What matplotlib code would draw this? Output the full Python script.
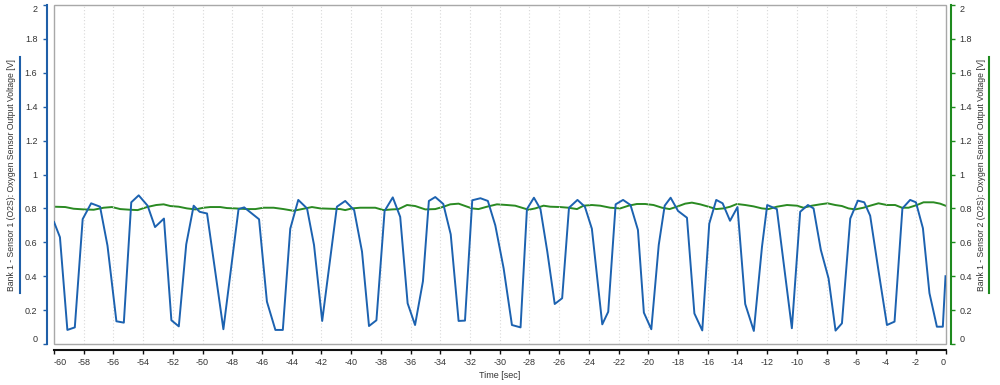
import matplotlib
matplotlib.use("Agg")
import matplotlib.pyplot as plt
from matplotlib.lines import Line2D
from matplotlib.ticker import FixedLocator

# Bank 1 - Sensor 1 (blue), time [sec] / voltage [V]
sensor1_time = [-60.0, -59.6, -59.1, -58.6, -58.07, -57.5, -56.9, -56.4, -55.8, -55.3,
                -54.8, -54.3, -53.7, -53.2, -52.6, -52.1, -51.6, -51.1, -50.6, -50.2,
                -49.7, -48.6, -47.58, -47.2, -46.2, -45.67, -45.1, -44.6, -44.1, -43.56,
                -42.97, -42.5, -41.95, -40.96, -40.4, -39.8, -39.27, -38.8, -38.3, -37.75,
                -37.2, -36.7, -36.2, -35.7, -35.17, -34.77, -34.34, -33.8, -33.3, -32.77,
                -32.34, -31.85, -31.3, -30.8, -30.3, -29.74, -29.18, -28.6, -28.17, -27.7,
                -27.26, -26.8, -26.3, -25.8, -25.34, -24.77, -24.27, -23.8, -23.1, -22.7,
                -22.2, -21.7, -21.2, -20.7, -20.3, -19.8, -19.3, -18.9, -18.5, -18.0,
                -17.4, -16.9, -16.37, -15.9, -15.43, -15.0, -14.5, -14.0, -13.48, -12.9,
                -12.35, -12.0, -11.35, -10.34, -9.78, -9.26, -8.88, -8.39, -7.87, -7.4,
                -6.97, -6.41, -5.9, -5.47, -5.07, -4.5, -3.94, -3.43, -2.9, -2.38,
                -1.99, -1.52, -1.08, -0.58, -0.18, 0.0]
sensor1_volt = [0.72, 0.63, 0.083, 0.098, 0.737, 0.83, 0.81, 0.58, 0.134, 0.126,
                0.836, 0.877, 0.816, 0.69, 0.74, 0.14, 0.104, 0.588, 0.816, 0.78,
                0.77, 0.087, 0.796, 0.806, 0.736, 0.25, 0.083, 0.083, 0.68, 0.85,
                0.8, 0.584, 0.136, 0.81, 0.844, 0.79, 0.545, 0.106, 0.14, 0.785,
                0.865, 0.75, 0.24, 0.112, 0.37, 0.844, 0.867, 0.826, 0.647, 0.136,
                0.138, 0.848, 0.86, 0.844, 0.70, 0.447, 0.112, 0.098, 0.796, 0.863,
                0.796, 0.545, 0.236, 0.27, 0.804, 0.85, 0.81, 0.68, 0.116, 0.19,
                0.824, 0.85, 0.82, 0.673, 0.185, 0.087, 0.584, 0.816, 0.863, 0.785,
                0.745, 0.18, 0.08, 0.71, 0.85, 0.83, 0.727, 0.808, 0.236, 0.077,
                0.574, 0.82, 0.796, 0.093, 0.78, 0.82, 0.8, 0.555, 0.387, 0.079,
                0.122, 0.74, 0.846, 0.836, 0.757, 0.427, 0.112, 0.132, 0.8, 0.85,
                0.836, 0.683, 0.3, 0.102, 0.102, 0.40]

# Bank 1 - Sensor 2 (green)
sensor2_time = [-60.0, -59.24, -58.68, -58.0, -57.33, -56.66, -56.1, -55.54, -54.87, -54.37,
                -53.74, -53.12, -52.62, -52.17, -51.61, -51.05, -50.49, -49.93, -49.48, -48.81,
                -48.36, -47.8,
                -47.01, -46.45, -45.9, -45.22, -44.55, -43.88, -43.31, -42.64, -42.08, -41.41,
                -40.73, -40.4, -39.95, -39.39, -38.83, -38.38, -37.82, -37.25, -36.81, -36.24,
                -35.69,
                -35.01, -34.34, -33.78, -33.33, -32.77, -32.32, -31.87, -31.43, -30.86, -30.19,
                -29.52, -28.96, -28.51, -28.06, -27.61, -27.05, -26.6, -25.93, -25.37, -24.8,
                -24.36, -23.8,
                -23.24, -22.56, -21.89, -21.33, -20.77, -20.21, -19.65, -19.08, -18.57, -18.08,
                -17.52, -17.07, -16.51, -15.95, -15.43, -14.94, -14.49, -14.04, -13.48, -12.92,
                -12.36, -11.91,
                -11.35, -10.67, -10.0, -9.56, -8.99, -8.43, -7.94, -7.42, -6.97, -6.53,
                -6.08, -5.52, -5.07, -4.51, -3.94, -3.39, -2.93, -2.49, -1.92, -1.48,
                -0.81, -0.36, 0.0]
sensor2_volt = [0.81, 0.808, 0.798, 0.794, 0.792, 0.804, 0.808, 0.796, 0.792, 0.79,
                0.808, 0.82, 0.824, 0.814, 0.81, 0.8, 0.794, 0.804, 0.808, 0.808,
                0.802, 0.8,
                0.796, 0.796, 0.804, 0.804, 0.796, 0.786, 0.796, 0.808, 0.8, 0.798,
                0.796, 0.79, 0.8, 0.804, 0.804, 0.804, 0.79, 0.794, 0.796, 0.82,
                0.814,
                0.794, 0.796, 0.81, 0.824, 0.828, 0.814, 0.8, 0.796, 0.81, 0.824,
                0.82, 0.816, 0.804, 0.792, 0.8, 0.816, 0.81, 0.808, 0.804, 0.796,
                0.816, 0.82,
                0.816, 0.804, 0.8, 0.816, 0.826, 0.826, 0.82, 0.804, 0.796, 0.81,
                0.828, 0.834, 0.824, 0.81, 0.796, 0.8, 0.81, 0.826, 0.82, 0.812,
                0.8, 0.796,
                0.81, 0.82, 0.816, 0.804, 0.816, 0.824, 0.83, 0.82, 0.814, 0.8,
                0.794, 0.804, 0.816, 0.83, 0.82, 0.82, 0.804, 0.804, 0.82, 0.836,
                0.836, 0.828, 0.816]

x_ticks = list(range(-60, 1, 2))
x_labels = [str(t) for t in x_ticks]
y_ticks = [0, 0.2, 0.4, 0.6, 0.8, 1, 1.2, 1.4, 1.6, 1.8, 2]
y_labels = ["0", "0.2", "0.4", "0.6", "0.8", "1", "1.2", "1.4", "1.6", "1.8", "2"]

label1 = "Bank 1 - Sensor 1 (O2S): Oxygen Sensor Output Voltage [V]"
label2 = "Bank 1 - Sensor 2 (O2S): Oxygen Sensor Output Voltage [V]"

BLUE = "#1c62b0"
GREEN = "#2a8a22"
AXIS_BLUE = "#1f5fa8"
AXIS_GREEN = "#1e8a1e"
TEXT = "#333333"

plt.rcParams["font.family"] = ["Liberation Sans", "DejaVu Sans"]

fig = plt.figure(figsize=(10, 3.85), dpi=100)
ax = fig.add_axes([0.054, 0.1065, 0.8915, 0.8805])
ax2 = ax.twinx()

# plot frame (grey box)
ax.patch.set_edgecolor("#a8a8a8")
ax.patch.set_linewidth(1.0)

# vertical dotted grid
for t in x_ticks[1:-1]:
    ax.axvline(t, color="#d8d8d8", linestyle=(0, (1, 2)), linewidth=0.8, zorder=0)

ax.plot(sensor1_time, sensor1_volt, color=BLUE, linewidth=1.4, zorder=3)
ax2.plot(sensor2_time, sensor2_volt, color=GREEN, linewidth=1.4, zorder=2)
ax.set_zorder(ax2.get_zorder() + 1)
ax.patch.set_visible(True)
ax.patch.set_facecolor("none")

ax.set_xlim(-60, 0)
ax.set_ylim(0, 2)
ax2.set_ylim(0, 2)

# spines (offsets are in points: 0.72 pt per pixel at 100 dpi)
for s in ["top", "right"]:
    ax.spines[s].set_visible(False)
for s in ["top", "left", "bottom"]:
    ax2.spines[s].set_visible(False)

ax.spines["left"].set_position(("outward", 5))
ax.spines["left"].set_color(AXIS_BLUE)
ax.spines["left"].set_linewidth(1.5)
ax.spines["bottom"].set_position(("outward", 4.3))
ax.spines["bottom"].set_color("#111111")
ax.spines["bottom"].set_linewidth(1.5)
ax2.spines["right"].set_position(("outward", 4))
ax2.spines["right"].set_color(AXIS_GREEN)
ax2.spines["right"].set_linewidth(1.5)

ax.set_xticks(x_ticks)
ax.set_xticklabels(x_labels)
ax.set_yticks(y_ticks)
ax.set_yticklabels(y_labels)
ax2.set_yticks(y_ticks)
ax2.set_yticklabels(y_labels)

ax.tick_params(axis="x", direction="out", length=3, width=1.0, color="#111111",
               labelsize=6.5, labelcolor=TEXT, pad=3)
ax.tick_params(axis="y", direction="out", length=3, width=1.0, color=AXIS_BLUE,
               labelsize=6.5, labelcolor=TEXT, pad=4)
ax2.tick_params(axis="y", direction="out", length=3, width=1.0, color=AXIS_GREEN,
                labelsize=6.5, labelcolor=TEXT, pad=3)

# small caps at the axis ends pointing into the plot
ax.yaxis.set_minor_locator(FixedLocator([0, 2]))
ax.tick_params(axis="y", which="minor", direction="in", length=2.5, width=1.3, color=AXIS_BLUE)
ax2.yaxis.set_minor_locator(FixedLocator([0, 2]))
ax2.tick_params(axis="y", which="minor", direction="in", length=2.5, width=1.3, color=AXIS_GREEN)

# end labels pushed inward like the original
yl = ax.get_yticklabels()
yl[0].set_va("bottom")
yl[-1].set_va("top")
yl2 = ax2.get_yticklabels()
yl2[0].set_va("bottom")
yl2[-1].set_va("top")
xl = ax.get_xticklabels()
xl[0].set_ha("left")
xl[-1].set_ha("right")

ax.set_xlabel("Time [sec]", fontsize=6.5, color=TEXT, labelpad=3)

# axis titles with coloured underline bars
fig.text(0.012, 0.5455, label1, rotation=90, fontsize=6.2, color=TEXT,
         ha="center", va="center")
fig.add_artist(Line2D([0.0195, 0.0195], [0.239, 0.852], color=AXIS_BLUE, linewidth=1.5,
                      transform=fig.transFigure))
fig.text(0.982, 0.5455, label2, rotation=90, fontsize=6.2, color=TEXT,
         ha="center", va="center")
fig.add_artist(Line2D([0.989, 0.989], [0.239, 0.852], color=AXIS_GREEN, linewidth=1.5,
                      transform=fig.transFigure))

fig.savefig("out.png", dpi=100)
